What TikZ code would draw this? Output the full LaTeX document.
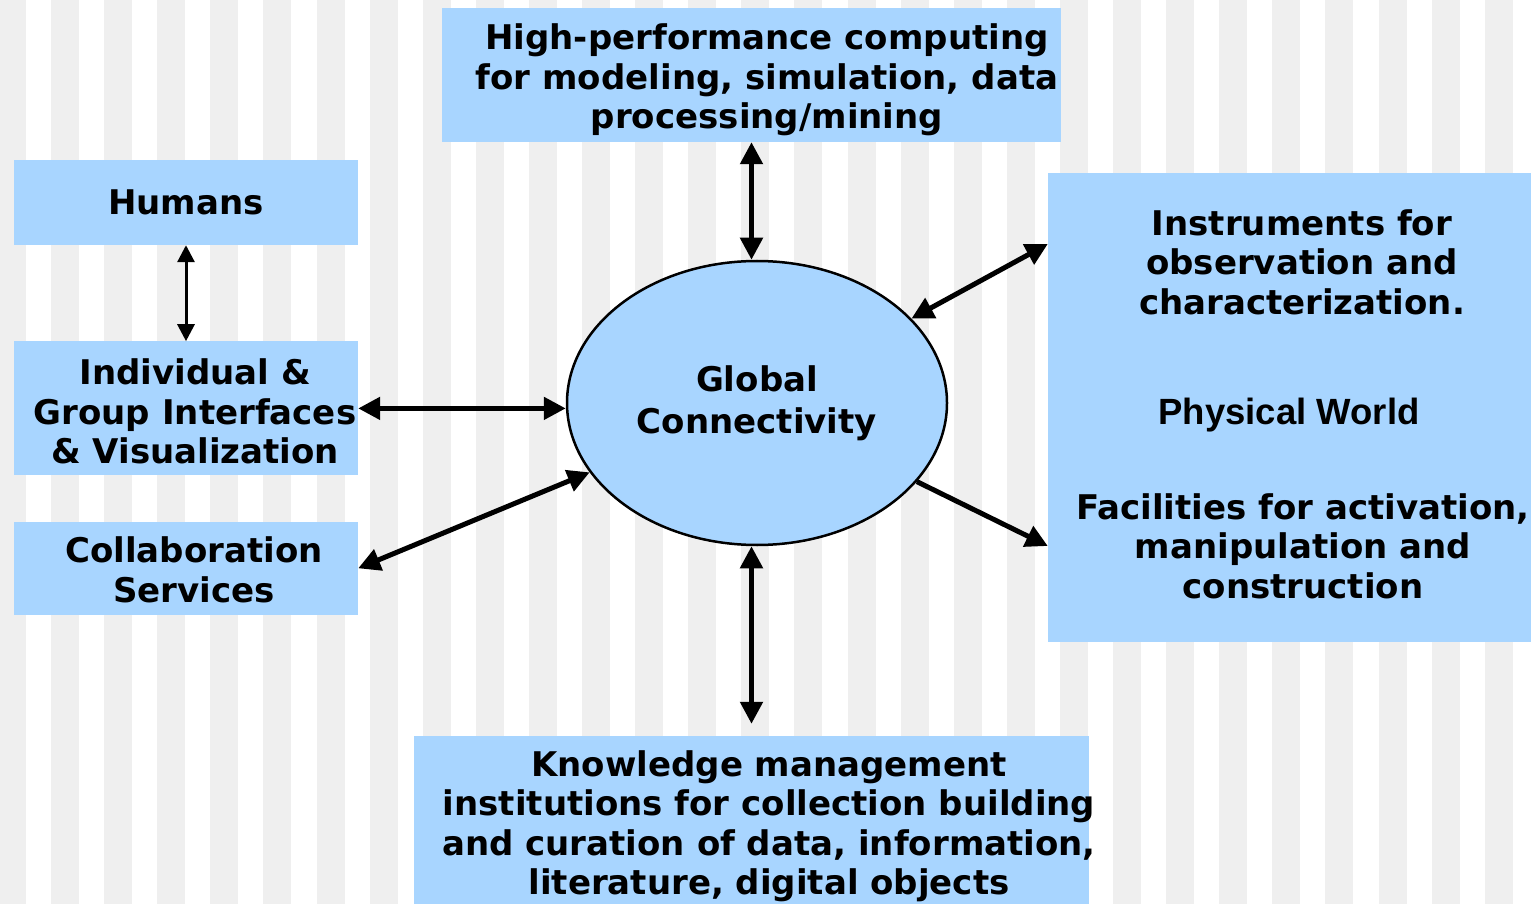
\documentclass[tikz,border=0pt]{standalone}
\usepackage{fontspec}
\setmainfont{DejaVu Sans}
\newfontfamily\arialfont{Liberation Sans}
\usetikzlibrary{arrows.meta, positioning, shapes.geometric}
\definecolor{boxblue}{HTML}{A8D5FF}
\definecolor{stripegray}{HTML}{EFEFEF}
\tikzstyle{box} = [fill=boxblue, inner sep=0pt, align=center, font=\bfseries\fontsize{34}{39.5}\selectfont]
\tikzstyle{caption} = [inner sep=0pt, align=center, font=\bfseries\fontsize{34}{39.5}\selectfont]
\tikzstyle{arrow} = [line width=5pt, {Triangle[length=22pt,width=22pt]}-{Triangle[length=22pt,width=22pt]}]
\tikzstyle{oneway} = [line width=5pt, -{Triangle[length=22pt,width=22pt]}]
\tikzstyle{thinarrow} = [line width=3pt, {Triangle[length=17pt,width=17pt]}-{Triangle[length=17pt,width=17pt]}]

\begin{document}
\begin{tikzpicture}[x=1pt, y=-1pt, node distance=10pt]
		\useasboundingbox (0,0) rectangle (1535,904);
		\fill[white] (0,0) rectangle (1535,904);
		% striped backdrop
		\foreach \i in {0,...,29}
			\fill[stripegray] ({-2.1+\i*53.1},0) rectangle ++(28,904);

		\node[box, draw, ellipse, line width=2.5pt, minimum width=380pt, minimum height=284pt,
			font=\bfseries\fontsize{34}{42}\selectfont]          (hub)    at (757,403) {Global\\Connectivity};
		\node[box, minimum width=344pt, minimum height=85pt]    (humans) at (186,202.5) {Humans};
		\node[box, minimum width=344pt, minimum height=134pt, below=96pt of humans]  (iface)  {};
		\node[box, minimum width=344pt, minimum height=93pt, below=46pt of iface]    (collab) {};

		% boxes whose text sits off centre
		\node[box, minimum width=619pt, minimum height=134pt]   (hpc)    at (751.5,75) {};
		\node[box, minimum width=483pt, minimum height=469pt]   (phys)   at (1289.5,407.5) {};
		\node[box, minimum width=675pt, minimum height=168pt]   (know)   at (751.5,820) {};

		\node[caption] (ifacetext)  at (195,411.5) {Individual \&\\Group Interfaces\\\& Visualization};
		\node[caption] (collabtext) at (194,570)   {Collaboration\\Services};
		\node[caption] (hpctext)    at (767,80)    {High-performance computing\\for modeling, simulation, data\\processing/mining};
		\node[caption, font=\arialfont\bfseries\fontsize{36.5}{40}\selectfont]
		               (world)      at (1289,415)  {Physical World};
		\node[caption] (instr)      at (1302,262)  {Instruments for\\observation and\\characterization.};
		\node[caption] (facil)      at (1303,546)  {Facilities for activation,\\manipulation and\\construction};
		\node[caption] (knowtext)   at (769,826)   {Knowledge management\\institutions for collection building\\and curation of data, information,\\literature, digital objects};

		\draw[arrow] (hpc.south) -- (hpc.south |- hub.north);
		\draw[arrow, shorten >=12pt] (know.north |- hub.south) -- (know.north);
		\draw[thinarrow] (humans) -- (iface);
		\draw[arrow] (iface.east) -- (iface.east -| hub.west);
		\draw[arrow] (collab.east) -- (hub);
		\draw[arrow] ([yshift=18pt]phys.west |- instr) -- (hub);
		\draw[oneway] (hub) -- (phys.west |- facil);
	\end{tikzpicture}
\end{document}
